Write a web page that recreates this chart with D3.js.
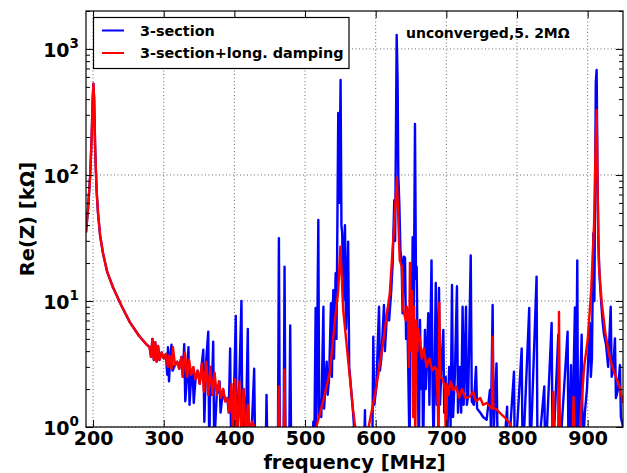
<!DOCTYPE html>
<html>
<head>
<meta charset="utf-8">
<script src="https://cdn.jsdelivr.net/npm/d3@7"></script>
<style>
  html, body { margin: 0; padding: 0; background: #fff; }
  svg { display: block; font-family: "DejaVu Sans", sans-serif; font-weight: bold; }
</style>
</head>
<body>
<svg id="chart" width="627" height="473"></svg>
<script>
// ---------- data ----------
const xTicks = [200, 300, 400, 500, 600, 700, 800, 900];
const yTicks = [1, 10, 100, 1000];
const yTickExponents = ["0", "1", "2", "3"];
const legendLabels = ["3-section", "3-section+long. damping"];
const seriesColors = ["#0000ff", "#ff0000"];
const annotation = "unconverged,5. 2MΩ";
const xLabel = "frequency [MHz]";
const yLabel = "Re(Z) [kΩ]";

// [frequency MHz, Re(Z) kΩ]
const blue3Section = [
  [190,35],[193,55],[196,100],[198,200],[199.5,400],[200.5,530],[201.5,400],[203,160],[205,75],[207,50],
  [210,33],[214,24],[220,17],[228,12.9],[240,9.2],[252,6.8],[265,5.3],[276,4.5],
  [280,4.3],[282,3.6],[284,5.0],[286,3.4],[288,4.7],[290,3.3],[292,4.4],[294,3.4],[297,3.9],[300,3.5],
  [303,3.8],[305,2.6],[306,4.3],[307.5,2.3],[309,3.5],[311,4.5],[312.5,2.8],[316,3.1],[319,3.3],[322,2.9],
  [325,3.6],[327,2.5],[329,4.55],[330.5,1.6],[333,2.5],[335,4.3],[336.5,1.5],[339,2.6],[341,2.7],[342.5,1.55],
  [345,2.4],[348,2.8],[351,2.2],[354,3.2],[356,4.1],[357.5,1.1],[360,3.3],[363,5.7],[364.5,0.6],[366,3.0],
  [368,1.8],[370,4.75],[371.5,0.7],[375,1.8],[378,2.0],[379,2.3],[380.5,1.3],[384,2.0],[387,1.6],[390,1.7],
  [392,1.3],[394,4.2],[395.5,0.6],[398,0.8],[402,7.6],[403.5,0.6],[407,2.3],[410,10],[411.5,0.6],[413,2.0],
  [416,0.8],[419,6],[420.5,0.6],[422,0.9],[425,1.1],[428,2.9],[429.5,0.6],[432,0.6],
  [444,0.5],[445.5,1.8],[447,0.5],[461.5,0.5],[463,31.5],[464.5,0.5],[469.5,0.5],[471,18.7],[472.5,0.5],
  [477.5,0.5],[479,6.4],[480.5,0.5],[510,0.5],
  [511.7,1.1],[513,0.6],[515,8.8],[516,1.0],[518.8,44],[520,1.2],[522,1.64],[523,1.2],[526,9],[527,1.4],
  [530.6,3.3],[532,1.8],[534,2.4],[536.7,9.6],[538,2.5],[540,12.2],[541,3.5],[543.3,16.6],[544.5,5],[547,310],
  [548.5,60],[550.3,567],[551.5,40],[552.6,34.5],[554,10],[556.5,40],[558,6],[561,29.5],[562.5,3],[564,2.4],
  [568,1.3],[572,0.6],[583,0.5],[584.8,1.36],[586,0.5],[595,0.5],[596.6,5.2],[598,1.5],[601,2.1],[604.7,9],
  [606,2.8],[608,3.5],[611.7,9.3],[613,4],[616,8],[617.8,9],[619,7],[622,12],[624,20],[626.3,63],
  [627.5,30],[629.7,1290],[631,560],[632,100],[633.4,60],[635,25],[636.7,21],[638,8],[640,22.5],[641.5,22],
  [643,5],[644.7,7.5],[646,3],[648,0.6],[649.5,16.7],[651,5],[652.3,32],[653.5,4],[655.6,254],[657,15],
  [658,18.7],[659.5,3],[661,0.6],[662.7,7.07],[664,2],[666,4],[667,0.6],[669.7,5.9],[671,2],[674.4,8],
  [676,1.5],[679,21],[680.5,2],[682,0.7],[685,13.9],[686.5,1.5],[689.6,12.7],[691,1.5],[693,3],[695.7,5.9],
  [697,1.3],[699,2.5],[701,0.7],[704,3],[706,1],[708,13.4],[709.5,1.2],[712,2.5],[715,13.1],[716.5,1.3],
  [719,3],[721,1.3],[723,9],[724.5,1.5],[727.8,9],[729,1.5],[731,1.8],[734.5,23],[736,1.6],[739,1.5],
  [742,3.0],[743.5,1.4],[748,1.3],[752,1.2],[757,1.14],[761.7,1.97],[763,1.0],[765.5,9.3],[767,0.9],[771,3.2],
  [772.5,0.7],[780,0.5],[786,1.45],[787,0.5],[795.7,2.75],[797,0.5],[806.6,4.2],[808,0.5],[817.3,8.8],[818.5,0.5],
  [827.7,15.6],[829,0.5],[838.6,2.1],[840,0.5],[849,6.7],[850.5,0.5],[858.4,5.4],[859.8,0.5],[871.6,5.7],[873,0.5],
  [876.4,3.1],[877.5,0.5],[882,8.9],[883,0.6],[885.3,21],[886.5,0.6],[891.5,5.4],[893,0.6],[896,1.3],[899,2],
  [903,6.7],[904.5,2.5],[906,3.5],[908,34.5],[909.5,10],[911.5,540],[912.7,681],[913.8,120],[915,30],[917,15],
  [919,10],[921,7],[923,5.5],[926,4.5],[929,3],[932.6,9],[934,2.5],[936,2.8],[938.6,5.05],[940,1.7],
  [943,2],[945.7,3.1],[947,1.2],[950,1.0]
];

const redDamped = [
  [190,35],[193,55],[196,100],[198,200],[199.5,400],[200.5,530],[201.5,400],[203,160],[205,75],[207,50],
  [210,33],[214,24],[220,17],[228,12.9],[240,9.2],[252,6.8],[265,5.3],[276,4.5],
  [280,4.3],[282,3.6],[284,5.0],[286,3.4],[288,4.7],[290,3.3],[292,4.4],[294,3.4],[297,3.9],[300,3.5],
  [303,3.8],[306,3.0],[308,3.7],[311,2.9],[313,4.3],[316,3.1],[319,3.3],[322,2.9],[325,3.6],[327,2.5],
  [330,3.9],[333,2.5],[336,3.4],[339,2.6],[342,3.0],[345,2.4],[348,2.8],[351,2.2],[354,3.2],[357,1.9],
  [360,3.3],[363,1.8],[366,3.0],[369,1.8],[372,2.7],[375,1.8],[378,2.3],[381,1.7],[384,2.0],[387,1.6],
  [390,1.7],[393,1.3],[396,2.2],[398,0.8],[401,2.4],[404,0.8],[407,2.3],[410,0.8],[413,2.0],[416,0.8],
  [419,1.5],[422,0.9],[425,1.1],[430,0.95],[432,0.8],[434,0.5],
  [461,0.5],[463,2.1],[465,0.5],[469.5,0.5],[471,2.85],[472.5,0.5],[514,0.5],
  [516,1.0],[526,1.64],[535,2.7],[542,6.7],[547,12.2],[550,27],[554,8.5],[561,3.4],[568,1.36],[572,0.9],
  [575,0.5],[588,0.5],[590,1.0],[601,2.09],[611,4.9],[620,11.6],[626,38.7],[630,95],[634,21],[637,18.7],
  [639,8.5],[642.6,7],[644,9],[646,7],[647,3],[648.5,20],[650,4],[651.5,12],[653,1.2],[654.5,9],
  [656,0.8],[657.5,7],[659,4],[660,6],[662.7,4.9],[665,3.5],[668,4.2],[672,3],[676,3.5],[680,2.8],
  [684,3],[686,2.8],[688,1.5],[689,0.6],[690,9.7],[691.5,2.5],[695,2.4],[698,2.0],[699.5,0.6],[701,2.2],
  [703,1.8],[706,2.3],[710,1.96],[714,2.1],[718,1.7],[722,2.0],[727,1.7],[733,1.74],[738,1.9],[742,1.6],
  [748,1.7],[752,1.5],[757,1.55],[762,1.45],[764.5,1.4],[765.5,5.2],[766.5,1.4],[770,1.4],[776,1.29],[782,1.2],
  [790,1.07],[795,0.9],[798,0.5],
  [850,0.5],[851.4,1.9],[853,0.5],[858,0.5],[859.4,8.2],[861,0.5],[878,0.5],[880,1.74],[882,0.6],[885,0.5],
  [889,1.0],[895,3],[900,4.9],[905,12.2],[909,40],[911.5,200],[912.7,328],[914,80],[916,18.7],[920,9.6],
  [925,5.6],[930,3.8],[935,3],[940,2.5],[945,2.1],[950,1.55]
];

// ---------- layout ----------
const svg = d3.select("#chart");
const L = 86, R = 623, T = 11, B = 427;

const x = d3.scaleLinear().domain([190, 950]).range([L, R]);
const y = d3.scaleLog().domain([1, 2000]).range([B, T]);

svg.append("defs").append("clipPath").attr("id", "plotclip")
  .append("rect").attr("x", L).attr("y", T).attr("width", R - L).attr("height", B - T);

// grid
const grid = svg.append("g");
xTicks.forEach(t => grid.append("line")
  .attr("x1", x(t)).attr("x2", x(t)).attr("y1", T).attr("y2", B)
  .attr("stroke", "#000").attr("stroke-width", 0.6).attr("stroke-dasharray", "1,2.5"));
yTicks.forEach(t => grid.append("line")
  .attr("x1", L).attr("x2", R).attr("y1", y(t)).attr("y2", y(t))
  .attr("stroke", "#000").attr("stroke-width", 0.6).attr("stroke-dasharray", "1,2.5"));

// lines
const line = d3.line().x(d => x(d[0])).y(d => y(Math.max(d[1], 0.3)));
const plot = svg.append("g").attr("clip-path", "url(#plotclip)");
plot.append("path").datum(blue3Section).attr("d", line)
  .attr("fill", "none").attr("stroke", seriesColors[0]).attr("stroke-width", 2.4)
  .attr("stroke-linejoin", "round");
plot.append("path").datum(redDamped).attr("d", line)
  .attr("fill", "none").attr("stroke", seriesColors[1]).attr("stroke-width", 2.4)
  .attr("stroke-linejoin", "round");

// axes (inward ticks, all four sides)
const majorLen = 7, minorLen = 4;
const xAxisB = d3.axisBottom(x).tickValues(xTicks).tickSize(-majorLen).tickPadding(4).tickFormat(d3.format("d"));
const gxb = svg.append("g").attr("transform", `translate(0,${B})`).call(xAxisB);
gxb.select(".domain").remove();
gxb.selectAll("text").attr("font-size", 19).attr("font-weight", "bold")
  .attr("font-family", "DejaVu Sans").attr("fill", "#000");
const gxt = svg.append("g").attr("transform", `translate(0,${T})`)
  .call(d3.axisTop(x).tickValues(xTicks).tickSize(-majorLen).tickFormat(""));
gxt.select(".domain").remove();

const minorY = [];
for (let e = 0; e < 4; e++) for (let m = 2; m <= 9; m++) { const v = m * Math.pow(10, e); if (v <= 2000) minorY.push(v); }

const gyl = svg.append("g").attr("transform", `translate(${L},0)`)
  .call(d3.axisLeft(y).tickValues(yTicks).tickSize(-majorLen).tickPadding(6).tickFormat(""));
gyl.select(".domain").remove();
const gylm = svg.append("g").attr("transform", `translate(${L},0)`)
  .call(d3.axisLeft(y).tickValues(minorY).tickSize(-minorLen).tickFormat(""));
gylm.select(".domain").remove();
const gyr = svg.append("g").attr("transform", `translate(${R},0)`)
  .call(d3.axisRight(y).tickValues(yTicks).tickSize(-majorLen).tickFormat(""));
gyr.select(".domain").remove();
const gyrm = svg.append("g").attr("transform", `translate(${R},0)`)
  .call(d3.axisRight(y).tickValues(minorY).tickSize(-minorLen).tickFormat(""));
gyrm.select(".domain").remove();
svg.selectAll(".tick line").attr("stroke", "#000").attr("stroke-width", 1);

// y tick labels 10^n
yTicks.forEach((t, i) => {
  const tx = svg.append("text").attr("x", L - 7).attr("y", y(t) + 8)
    .attr("text-anchor", "end").attr("font-size", 19).attr("font-weight", "bold").attr("fill", "#000");
  tx.append("tspan").text("10");
  tx.append("tspan").attr("font-size", 13.5).attr("dy", -9).text(yTickExponents[i]);
});

// frame
svg.append("rect").attr("x", L).attr("y", T).attr("width", R - L).attr("height", B - T)
  .attr("fill", "none").attr("stroke", "#000").attr("stroke-width", 1.2);

// axis labels
svg.append("text").attr("x", (L + R) / 2).attr("y", 469).attr("text-anchor", "middle")
  .attr("font-size", 19.5).attr("font-weight", "bold").text(xLabel);
svg.append("text").attr("transform", `translate(34,${(T + B) / 2}) rotate(-90)`)
  .attr("text-anchor", "middle").attr("font-size", 19.5).attr("font-weight", "bold").text(yLabel);

// annotation
svg.append("text").attr("x", 406).attr("y", 38).attr("font-size", 14).attr("font-weight", "bold").text(annotation);

// legend
const lg = svg.append("g");
lg.append("rect").attr("x", 93.5).attr("y", 17.5).attr("width", 255.5).attr("height", 51)
  .attr("fill", "#fff").attr("stroke", "#000").attr("stroke-width", 1.2);
legendLabels.forEach((lab, i) => {
  const yy = 30.5 + i * 22.5;
  lg.append("line").attr("x1", 102).attr("x2", 124).attr("y1", yy).attr("y2", yy)
    .attr("stroke", seriesColors[i]).attr("stroke-width", 2);
  lg.append("text").attr("x", 140).attr("y", yy + 5).attr("font-size", 14.4).attr("font-weight", "bold").text(lab);
});
</script>
</body>
</html>
